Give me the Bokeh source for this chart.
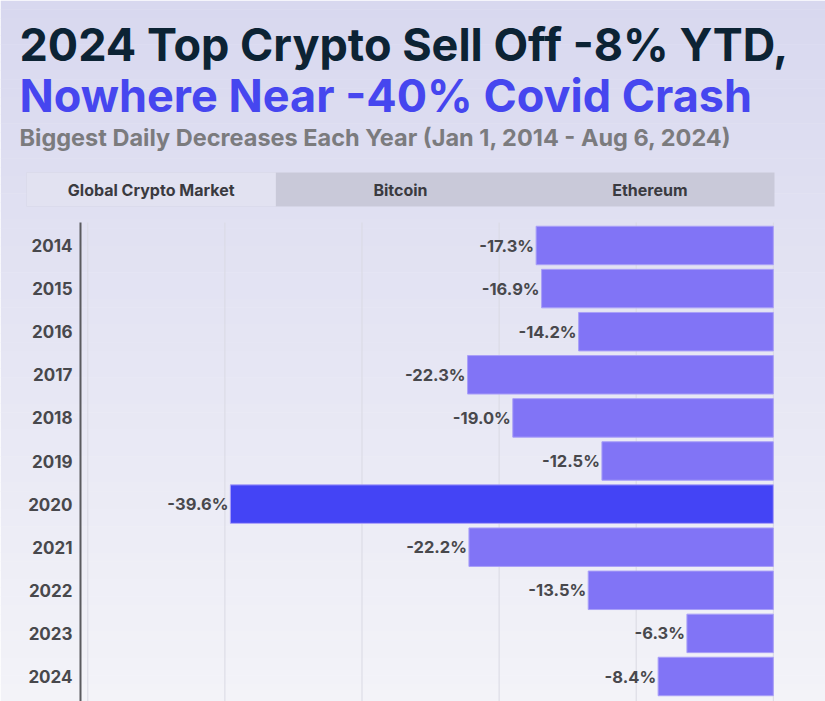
from bokeh.plotting import figure
from bokeh.models import Range1d, ColumnDataSource
from bokeh.core.properties import value
from bokeh.embed import file_html
from bokeh.resources import INLINE

# ---- data ----
years = [2014, 2015, 2016, 2017, 2018, 2019, 2020, 2021, 2022, 2023, 2024]
year_labels = [str(y) for y in years]
decreases = [-17.3, -16.9, -14.2, -22.3, -19.0, -12.5, -39.6, -22.2, -13.5, -6.3, -8.4]
grid_ticks = [-50, -40, -30, -20, -10, 0]
tabs = ["Global Crypto Market", "Bitcoin", "Ethereum"]
title1 = "2024 Top Crypto Sell Off -8% YTD,"
title2 = "Nowhere Near -40% Covid Crash"
subtitle = "Biggest Daily Decreases Each Year (Jan 1, 2014 - Aug 6, 2024)"

W, H = 825, 701
FONT = value("Inter")

p = figure(width=W, height=H, output_backend="svg", toolbar_location=None,
           x_range=Range1d(0, W), y_range=Range1d(H, 0),
           min_border=0, outline_line_color=None)
p.axis.visible = False
p.grid.visible = False

# value / year scales for the chart part
zero_px, px_per = 772.8, 13.71
p.extra_x_ranges = {"val": Range1d((0 - zero_px) / px_per, (W - zero_px) / px_per)}
y0_px, px_per_y = 245.0, 43.1
p.extra_y_ranges = {"yr": Range1d(2014 + (H - y0_px) / px_per_y, 2014 + (0 - y0_px) / px_per_y)}

# background gradient
def mix(c1, c2, t):
    return "#%02x%02x%02x" % tuple(round(a + (b - a) * t) for a, b in zip(c1, c2))
top_c, bot_c = (216, 216, 239), (243, 243, 248)
n = 80
tops = [H * i / n for i in range(n)]
bots = [H * (i + 1) / n + 0.5 for i in range(n)]
cols = [mix(top_c, bot_c, i / (n - 1)) for i in range(n)]
p.quad(left=0, right=W, top=tops, bottom=bots, fill_color=cols, line_color=None)

# titles (middle baseline; em-box middle sits 0.3em above the alphabetic baseline)
T1, T3 = 45, 23.5
p.text(x=[19], y=[57 - 0.3 * T1], text=[title1], text_font=FONT, text_font_style="bold",
       text_font_size=f"{T1}px", text_color="#0c2334", text_baseline="middle")
p.text(x=[19], y=[108 - 0.3 * T1], text=[title2], text_font=FONT, text_font_style="bold",
       text_font_size=f"{T1}px", text_color="#4646ef", text_baseline="middle")
p.text(x=[19], y=[144 - 0.3 * T3], text=[subtitle], text_font=FONT, text_font_style="bold",
       text_font_size=f"{T3}px", text_color="#7b7b7e", text_baseline="middle")

# tab bar
tab_l, tab_r, tab_t, tab_b = 26, 774, 172, 206
tw = (tab_r - tab_l) / len(tabs)
p.quad(left=[tab_l], right=[tab_r], top=[tab_t], bottom=[tab_b],
       fill_color="#c9c9d9", line_color=None)
p.quad(left=[tab_l], right=[tab_l + tw], top=[tab_t], bottom=[tab_b],
       fill_color="#e2e2f1", line_color=None)
p.text(x=[tab_l + tw * (i + 0.5) for i in range(len(tabs))], y=[189.5] * len(tabs),
       text=tabs, text_font=FONT, text_font_style="bold", text_font_size="16px",
       text_color="#3a3a40", text_align="center", text_baseline="middle")

# gridlines
grid_top, grid_bot = 222, H
p.segment(x0=grid_ticks, x1=grid_ticks, y0=[grid_top] * len(grid_ticks),
          y1=[grid_bot] * len(grid_ticks), x_range_name="val",
          line_color="#d9d9e3", line_width=1)
# axis line
p.segment(x0=[80], x1=[80], y0=[grid_top], y1=[grid_bot], line_color="#5a5a5e", line_width=2)

# bars
colors = ["#4444f5" if v == min(decreases) else "#8174f6" for v in decreases]
src = ColumnDataSource(dict(y=years, left=decreases, right=[0] * len(years), color=colors,
                            lab=["%.1f%%" % v for v in decreases], ylab=year_labels))
p.hbar(y="y", left="left", right="right", height=0.893, fill_color="color",
       line_color="#a99ff8", line_width=1, source=src, x_range_name="val", y_range_name="yr")
p.text(x="left", y="y", text="lab", source=src, x_range_name="val", y_range_name="yr",
       x_offset=-2, text_align="right", text_baseline="middle", text_font=FONT,
       text_font_style="bold", text_font_size="16.5px", text_color="#48484c")

# year labels
p.text(x=[72] * len(years), y=years, text=year_labels, y_range_name="yr",
       text_align="right", text_baseline="middle", text_font=FONT,
       text_font_style="bold", text_font_size="17px", text_color="#48484c")

open("out.html", "w").write(file_html(p, INLINE))
